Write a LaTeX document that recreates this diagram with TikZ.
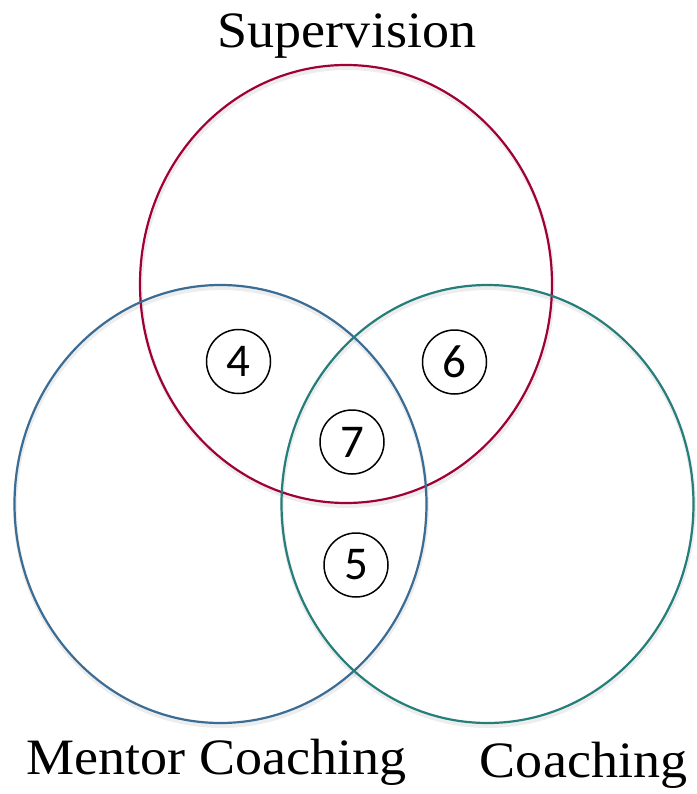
\documentclass[tikz,border=0pt]{standalone}
\usepackage{fontspec}
\usetikzlibrary{shapes.geometric}
\newfontfamily\labelfont[FakeStretch=1.06]{Liberation Serif}
\newfontfamily\numfont{Carlito}
\definecolor{supred}{RGB}{160,0,58}
\definecolor{mentblue}{RGB}{59,108,148}
\definecolor{coachteal}{RGB}{38,126,122}
\tikzset{
  setcirc/.style={ellipse, draw=#1, line width=2.2pt, minimum width=412pt, minimum height=438pt, inner sep=0pt},
  shadowcirc/.style={ellipse, draw=black, draw opacity=0.07, line width=4pt, minimum width=412pt, minimum height=438pt, inner sep=0pt},
  numcirc/.style={circle, draw=black, line width=1.5pt, minimum size=64pt, inner sep=0pt, font=\numfont\fontsize{47}{47}\selectfont},
  setlabel/.style={anchor=base, inner sep=0pt, font=\labelfont\fontsize{51}{51}\selectfont}
}
\begin{document}
\begin{tikzpicture}[x=1pt,y=-1pt]
\useasboundingbox (0,0) rectangle (696,794);
% soft shadows
\node[shadowcirc] at (347,287) {};
\node[shadowcirc] at (221,507) {};
\node[shadowcirc] at (488,507) {};
% set circles
\node[setcirc=supred] (sup) at (346,284) {};
\node[setcirc=mentblue] (ment) at (220.5,504) {};
\node[setcirc=coachteal] (coach) at (487.5,504) {};
% region markers
\node[numcirc] (n4) at (238.5,361.5) {4};
\node[numcirc] (n6) at (454.5,362) {6};
\node[numcirc] (n7) at (352,442) {7};
\node[numcirc] (n5) at (356,565) {5};
% labels
\node[setlabel] (lsup) at (347,48) {Supervision};
\node[setlabel] (lment) at (216.5,774) {Mentor Coaching};
\node[setlabel] (lcoach) at (583.5,777) {Coaching};
\end{tikzpicture}
\end{document}
